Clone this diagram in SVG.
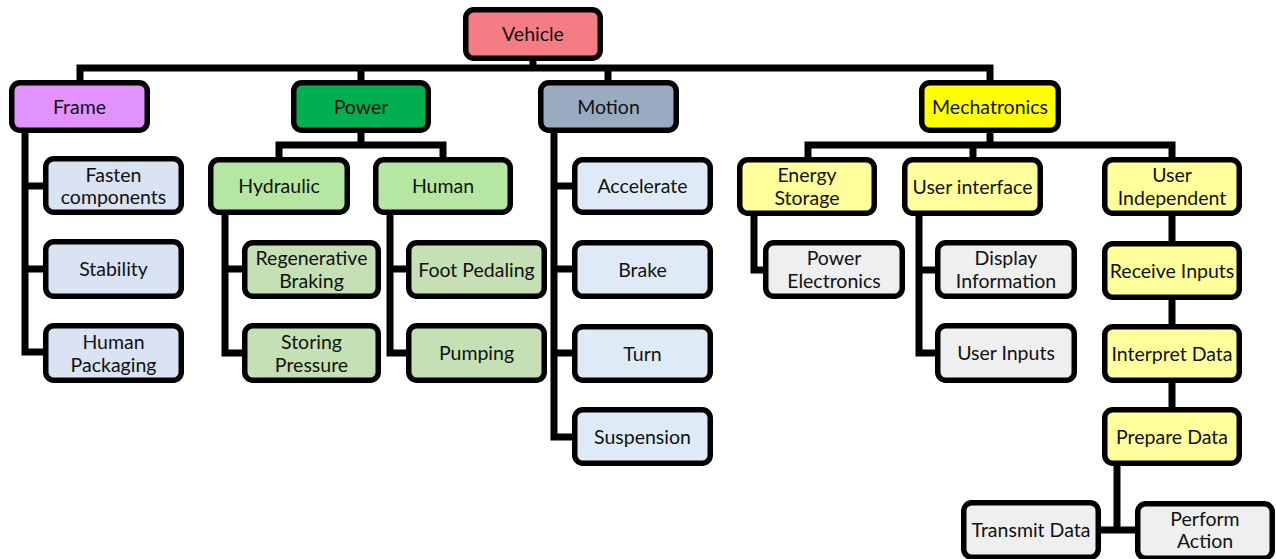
<svg xmlns="http://www.w3.org/2000/svg" width="1276" height="559" viewBox="0 0 1276 559">
<style>
.b{stroke:#000;stroke-width:5.5}
.t{font-family:Lato,"Liberation Sans",sans-serif;font-size:19.5px;fill:#111;text-anchor:middle}
.c{fill:none;stroke:#000;stroke-width:7}
</style>
<rect width="1276" height="559" fill="#fff"/>
<g id="connectors">
<path class="c" d="M533 61V68M80 80V68H990V80M361 68V80M608 68V80"/>
<path class="c" d="M25 133V352H43M25 186H43M25 269H43"/>
<path class="c" d="M361 133V145M279 157V145H443V157"/>
<path class="c" d="M225 215V353H242M225 269H242"/>
<path class="c" d="M390 215V353H406M390 269H406"/>
<path class="c" d="M554 133V437H572M554 186H572M554 269H572M554 353H572"/>
<path class="c" d="M990 133V145M808 157V145H1172V157M973 145V157"/>
<path class="c" d="M754 216V270H763"/>
<path class="c" d="M919 216V353H935M919 270H935"/>
<path class="c" d="M1172 216V241M1172 300V324M1172 383V407"/>
<path class="c" d="M1117 466V530M1101 530H1135"/>
</g>
<g id="vehicle"><rect class="b" x="465.75" y="9.75" width="134.5" height="48.5" rx="8" fill="#F47C84"/><text class="t" x="533" y="41">Vehicle</text></g>
<g id="frame"><rect class="b" x="11.75" y="82.75" width="135.5" height="47.5" rx="8" fill="#E292FC"/><text class="t" x="79.5" y="113.5">Frame</text></g>
<g id="power"><rect class="b" x="293.75" y="82.75" width="134.5" height="47.5" rx="8" fill="#00B050"/><text class="t" x="361" y="113.5">Power</text></g>
<g id="motion"><rect class="b" x="540.75" y="82.75" width="135.5" height="47.5" rx="8" fill="#9AAAC0"/><text class="t" x="608.5" y="113.5">Motion</text></g>
<g id="mechatronics"><rect class="b" x="921.75" y="82.75" width="136.5" height="47.5" rx="8" fill="#FFFF00"/><text class="t" x="990" y="113.5">Mechatronics</text></g>
<g id="fasten"><rect class="b" x="45.75" y="158.75" width="135.5" height="53.5" rx="8" fill="#DAE3F3"/><text class="t" x="113.5" y="181.5">Fasten</text><text class="t" x="113.5" y="204">components</text></g>
<g id="stability"><rect class="b" x="45.75" y="241.75" width="135.5" height="54.5" rx="8" fill="#DAE3F3"/><text class="t" x="113.5" y="276">Stability</text></g>
<g id="humanpack"><rect class="b" x="45.75" y="325.75" width="135.5" height="54.5" rx="8" fill="#DAE3F3"/><text class="t" x="113.5" y="349">Human</text><text class="t" x="113.5" y="371.5">Packaging</text></g>
<g id="hydraulic"><rect class="b" x="210.75" y="159.75" width="136.5" height="52.5" rx="8" fill="#B5E6A2"/><text class="t" x="279" y="193">Hydraulic</text></g>
<g id="human"><rect class="b" x="375.75" y="159.75" width="134.5" height="52.5" rx="8" fill="#B5E6A2"/><text class="t" x="443" y="193">Human</text></g>
<g id="regen"><rect class="b" x="244.75" y="242.75" width="133.5" height="53.5" rx="8" fill="#C5E0B4"/><text class="t" x="311.5" y="265">Regenerative</text><text class="t" x="311.5" y="287.5">Braking</text></g>
<g id="storing"><rect class="b" x="244.75" y="325.75" width="133.5" height="54.5" rx="8" fill="#C5E0B4"/><text class="t" x="311.5" y="349">Storing</text><text class="t" x="311.5" y="371.5">Pressure</text></g>
<g id="foot"><rect class="b" x="408.75" y="242.75" width="135.5" height="53.5" rx="8" fill="#C5E0B4"/><text class="t" x="476.5" y="276.5">Foot Pedaling</text></g>
<g id="pumping"><rect class="b" x="408.75" y="325.75" width="135.5" height="54.5" rx="8" fill="#C5E0B4"/><text class="t" x="476.5" y="360">Pumping</text></g>
<g id="accelerate"><rect class="b" x="574.75" y="159.75" width="135.5" height="52.5" rx="8" fill="#DEEBF7"/><text class="t" x="642.5" y="193">Accelerate</text></g>
<g id="brake"><rect class="b" x="574.75" y="242.75" width="135.5" height="53.5" rx="8" fill="#DEEBF7"/><text class="t" x="642.5" y="276.5">Brake</text></g>
<g id="turn"><rect class="b" x="574.75" y="326.75" width="135.5" height="53.5" rx="8" fill="#DEEBF7"/><text class="t" x="642.5" y="360.5">Turn</text></g>
<g id="suspension"><rect class="b" x="574.75" y="409.75" width="135.5" height="53.5" rx="8" fill="#DEEBF7"/><text class="t" x="642.5" y="443.5">Suspension</text></g>
<g id="energy"><rect class="b" x="739.75" y="159.75" width="134.5" height="53.5" rx="8" fill="#FFFF9B"/><text class="t" x="807" y="182">Energy</text><text class="t" x="807" y="204.5">Storage</text></g>
<g id="userinterface"><rect class="b" x="904.75" y="159.75" width="135.5" height="53.5" rx="8" fill="#FFFF9B"/><text class="t" x="972.5" y="193.5">User interface</text></g>
<g id="userindependent"><rect class="b" x="1104.75" y="159.75" width="134.5" height="53.5" rx="8" fill="#FFFF9B"/><text class="t" x="1172" y="182">User</text><text class="t" x="1172" y="204.5">Independent</text></g>
<g id="powerelec"><rect class="b" x="765.75" y="242.75" width="136.5" height="53.5" rx="8" fill="#EFEFEF"/><text class="t" x="834" y="265">Power</text><text class="t" x="834" y="287.5">Electronics</text></g>
<g id="display"><rect class="b" x="937.75" y="242.75" width="136.5" height="53.5" rx="8" fill="#EFEFEF"/><text class="t" x="1006" y="265">Display</text><text class="t" x="1006" y="287.5">Information</text></g>
<g id="userinputs"><rect class="b" x="937.75" y="325.75" width="136.5" height="54.5" rx="8" fill="#EFEFEF"/><text class="t" x="1006" y="360">User Inputs</text></g>
<g id="receive"><rect class="b" x="1104.75" y="243.75" width="134.5" height="53.5" rx="8" fill="#FFFF9B"/><text class="t" x="1172" y="277.5">Receive Inputs</text></g>
<g id="interpret"><rect class="b" x="1104.75" y="326.75" width="134.5" height="53.5" rx="8" fill="#FFFF9B"/><text class="t" x="1172" y="360.5">Interpret Data</text></g>
<g id="prepare"><rect class="b" x="1104.75" y="409.75" width="134.5" height="53.5" rx="8" fill="#FFFF9B"/><text class="t" x="1172" y="443.5">Prepare Data</text></g>
<g id="transmit"><rect class="b" x="963.75" y="502.75" width="134.5" height="54.5" rx="8" fill="#EFEFEF"/><text class="t" x="1031" y="536.5">Transmit Data</text></g>
<g id="perform"><rect class="b" x="1137.75" y="503.75" width="134.5" height="54.5" rx="8" fill="#EFEFEF"/><text class="t" x="1205" y="525.5">Perform</text><text class="t" x="1205" y="548">Action</text></g>
</svg>
